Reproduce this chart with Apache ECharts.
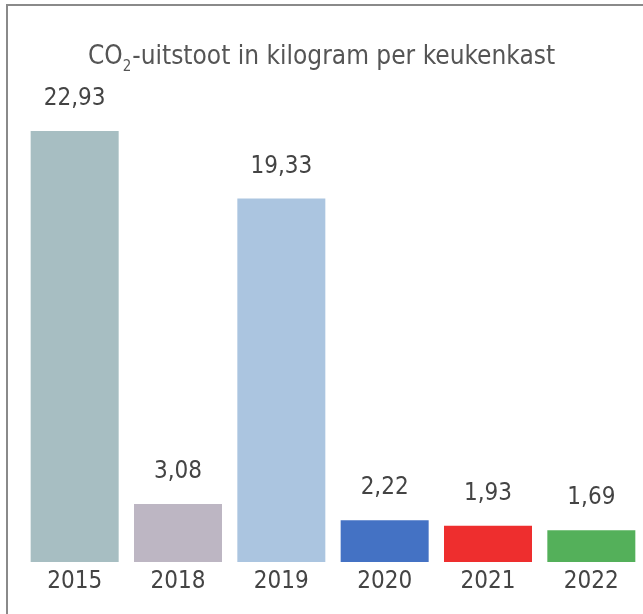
<!DOCTYPE html>
<html lang="nl">
<head>
    <meta charset="UTF-8">
    <title>CO2-uitstoot per keukenkast</title>
    <script src="https://cdn.jsdelivr.net/npm/echarts@6/dist/echarts.min.js"></script>
    <style>
        html, body { margin: 0; padding: 0; background: #fff; }
        #main { width: 643px; height: 614px; }
    </style>
</head>
<body>
<div id="main"></div>
<script>
    // data
    var years = ['2015', '2018', '2019', '2020', '2021', '2022'];
    var values = [22.93, 3.08, 19.33, 2.22, 1.93, 1.69];
    var barColors = ['#a7bec2', '#bdb6c3', '#abc5e0', '#4472c4', '#ee2e2e', '#54b05a'];

    var font = '"Liberation Sans Narrow", "DejaVu Sans Condensed", sans-serif';

    var myChart = echarts.init(document.getElementById('main'));

    var option = {
        backgroundColor: '#fff',
        animation: false,
        title: {
            text: '{a|CO}{s|2}{a|-uitstoot in kilogram per keukenkast}',
            left: 'center',
            top: 36,
            textStyle: {
                fontWeight: 'normal',
                rich: {
                    a: { fontFamily: font, fontSize: 26, fontWeight: 'normal', color: '#555', lineHeight: 32 },
                    s: { fontFamily: font, fontSize: 15, fontWeight: 'normal', color: '#555', padding: [20, 1, 0, 0], lineHeight: 32 }
                }
            }
        },
        graphic: [{
            type: 'polyline',
            shape: { points: [[7, 614], [7, 5], [643, 5]] },
            style: { stroke: '#8a8a8a', lineWidth: 2, fill: null }
        }],
        grid: { left: 23, width: 624, top: 92, bottom: 52 },
        xAxis: {
            type: 'category',
            data: years,
            axisLine: { show: false },
            axisTick: { show: false },
            axisLabel: { fontFamily: font, fontSize: 24, color: '#444', margin: 8 }
        },
        yAxis: {
            type: 'value',
            min: 0,
            max: 25,
            show: false,
            splitLine: { show: false }
        },
        series: [{
            type: 'bar',
            barWidth: 88,
            data: values.map(function (v, i) {
                return { value: v, itemStyle: { color: barColors[i] } };
            }),
            label: {
                show: true,
                position: 'top',
                distance: 20,
                fontFamily: font,
                fontSize: 24,
                color: '#444',
                formatter: function (p) {
                    return p.value.toFixed(2).replace('.', ',');
                }
            }
        }]
    };

    myChart.setOption(option);
</script>
</body>
</html>
